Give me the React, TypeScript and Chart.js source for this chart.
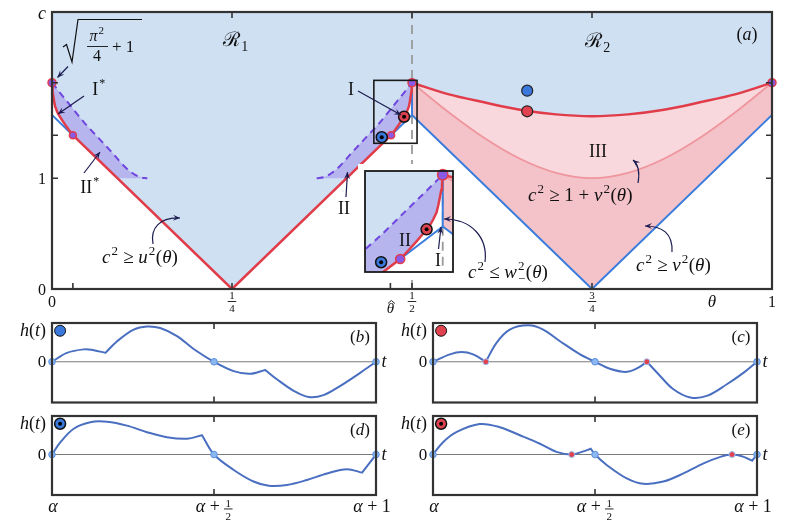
import React, { useEffect, useRef } from "react";
import { Chart, registerables } from "chart.js";

Chart.register(...registerables);

type P = [number, number];

// ================= Panel (a) data =================
const THETA_RANGE = [0, 1];
const C_RANGE = [0, 2.5];
const THETA_TICKS_BOTTOM = [0, 0.029, 0.25, 0.47, 0.5, 0.75, 1];
const THETA_TICKS_TOP = [0.25, 0.5, 0.75];
const C_TICKS_SIDE = [1, 1.388, 1.862];
const C_LABEL_VALUES = [0, 1];
const C_LABELS = ["0", "1"];
const INSET_THETA_RANGE = [0.447, 0.507];
const INSET_C_RANGE = [1.315, 1.883];

const RED_CURVE_L: P[] = [[0, 1.862], [0.0005, 1.808], [0.001, 1.776], [0.0018, 1.741], [0.003, 1.692], [0.0042, 1.651], [0.0065, 1.61], [0.0088, 1.577], [0.013, 1.534], [0.018, 1.486], [0.023, 1.44], [0.029, 1.388]];
const RED_V_VERTEX: P = [0.25, 0];
const RED_CURVE_R: P[] = [[0.471, 1.388], [0.477, 1.44], [0.482, 1.486], [0.487, 1.534], [0.4912, 1.577], [0.4935, 1.61], [0.4958, 1.651], [0.497, 1.692], [0.4982, 1.741], [0.499, 1.776], [0.4995, 1.808], [0.5, 1.862]];
const RED_R2: P[] = [[0.5, 1.862], [0.55, 1.759], [0.6, 1.685], [0.65, 1.618], [0.7, 1.576], [0.75, 1.56], [0.8, 1.576], [0.85, 1.618], [0.9, 1.685], [0.95, 1.759], [1, 1.862]];
const PINK_R2: P[] = [[0.5, 1.862], [0.55, 1.6], [0.6, 1.365], [0.65, 1.175], [0.7, 1.048], [0.75, 1.0], [0.8, 1.048], [0.85, 1.175], [0.9, 1.365], [0.95, 1.6], [1, 1.862]];
const BLUE_R2: P[] = [[0.5, 1.571], [0.75, 0], [1, 1.571]];
const BLUE_EDGE_R: P[] = [[1, 1.571], [1, 1.862]];
const BLUE_L1: P[] = [[0, 1.862], [0, 1.571], [0.029, 1.388]];
const BLUE_L2: P[] = [[0.471, 1.388], [0.5, 1.571], [0.5, 1.862]];
const DASH_L: P[] = [[0, 1.862], [0.01, 1.78], [0.025, 1.66], [0.045, 1.5], [0.065, 1.36], [0.085, 1.22], [0.1, 1.11], [0.112, 1.045], [0.122, 1.01], [0.1324, 1.0]];
const DASH_R: P[] = [[0.3676, 1.0], [0.378, 1.01], [0.388, 1.045], [0.4, 1.11], [0.415, 1.22], [0.435, 1.36], [0.455, 1.5], [0.475, 1.66], [0.49, 1.78], [0.5, 1.862]];
const II_FLOOR_L: P[] = [[0.0908, 1.0], [0.1324, 1.0]];
const II_FLOOR_R: P[] = [[0.3676, 1.0], [0.4092, 1.0]];
const HALF_LINE: P[] = [[0.5, 0], [0.5, 2.5]];
const TRIPLE_POINTS: P[] = [[0, 1.862], [0.5, 1.862], [1, 1.862]];
const JOIN_POINTS: P[] = [[0.029, 1.388], [0.471, 1.388]];
const BLUE_DOT: P[] = [[0.66, 1.79]];
const RED_DOT: P[] = [[0.66, 1.604]];
const BLUE_BULL: P[] = [[0.458, 1.37]];
const RED_BULL: P[] = [[0.489, 1.555]];

// ================= Panels (b)-(e) data =================
const T_RANGE = [0, 1];
const H_RANGE = [-1.05, 1];
const PANEL_TICKS = [0.5];
const ZERO_LINE: P[] = [[0, 0], [1, 0]];
const ZERO_DOTS: P[] = [[0, 0], [0.5, 0], [1, 0]];
const MARKER_POS: P[] = [[0.025, 0.8]];
const CURVE_B: P[] = [[0, 0], [0.046, 0.23], [0.098, 0.32], [0.129, 0.3], [0.165, 0.23], [0.165, 0.23], [0.201, 0.53], [0.252, 0.83], [0.293, 0.91], [0.334, 0.87], [0.386, 0.66], [0.437, 0.33], [0.5, 0], [0.561, -0.24], [0.612, -0.31], [0.658, -0.21], [0.658, -0.21], [0.694, -0.45], [0.746, -0.75], [0.792, -0.91], [0.838, -0.86], [0.89, -0.62], [0.952, -0.28], [1, 0]];
const CURVE_C: P[] = [[0, 0], [0.052, 0.19], [0.088, 0.25], [0.124, 0.19], [0.163, 0], [0.163, 0], [0.196, 0.49], [0.237, 0.83], [0.294, 0.94], [0.34, 0.83], [0.392, 0.53], [0.454, 0.19], [0.5, 0], [0.546, -0.18], [0.598, -0.26], [0.634, -0.15], [0.66, 0], [0.66, 0], [0.696, -0.32], [0.742, -0.71], [0.794, -0.92], [0.845, -0.88], [0.907, -0.58], [0.959, -0.28], [1, 0]];
const CURVE_D: P[] = [[0, 0], [0.026, 0.32], [0.067, 0.67], [0.118, 0.84], [0.17, 0.85], [0.231, 0.75], [0.293, 0.58], [0.355, 0.45], [0.417, 0.41], [0.463, 0.5], [0.463, 0.5], [0.5, 0], [0.561, -0.4], [0.622, -0.7], [0.669, -0.81], [0.725, -0.79], [0.787, -0.66], [0.849, -0.49], [0.91, -0.38], [0.957, -0.47], [0.957, -0.47], [1, 0]];
const CURVE_E: P[] = [[0, 0], [0.031, 0.32], [0.072, 0.58], [0.144, 0.79], [0.206, 0.71], [0.268, 0.5], [0.33, 0.28], [0.381, 0.07], [0.428, 0], [0.459, 0.07], [0.487, 0.15], [0.487, 0.15], [0.5, 0], [0.536, -0.27], [0.598, -0.62], [0.649, -0.76], [0.711, -0.7], [0.773, -0.49], [0.835, -0.23], [0.887, -0.06], [0.923, 0], [0.959, -0.06], [0.985, -0.16], [0.985, -0.16], [1, 0]];
const RED_DOTS_C: P[] = [[0.163, 0], [0.66, 0]];
const RED_DOTS_E: P[] = [[0.428, 0], [0.923, 0]];

// ================= styling =================
const SERIF = "'Liberation Serif', 'DejaVu Serif', 'Times New Roman', serif";
const INK = "#111";
const FRAME = "#333";
const ARROW = "#1c1c50";
const LIGHT_BLUE = "#cfe0f3";
const PINK_LIGHT = "#f8d8dc";
const PINK_DARK = "#f4c3c9";
const PURPLE_FILL = "#b6b5ee";
const PURPLE = "#7046de";
const RED = "#e03c4a";
const PINK_LINE = "#ef959e";
const BLUE = "#3a7ddd";
const PANEL_BLUE = "#4a6fc0";

const pts = (a: P[]) => a.map(([x, y]) => ({ x, y }));

type Seg = { t: string; it?: boolean; sup?: string; sub?: string };

function drawMath(ctx: CanvasRenderingContext2D, segs: Seg[], x: number, y: number, size: number, align: "left" | "center" | "right" = "left") {
  const small = Math.round(size * 0.68);
  const font = (it: boolean, s: number) => `${it ? "italic " : ""}${s}px ${SERIF}`;
  let total = 0;
  const widths = segs.map((s) => {
    ctx.font = font(!!s.it, size);
    const w = ctx.measureText(s.t).width;
    let extra = 0;
    if (s.sup || s.sub) {
      ctx.font = font(false, small);
      const ws = s.sup ? ctx.measureText(s.sup).width : 0;
      const wb = s.sub ? ctx.measureText(s.sub).width : 0;
      extra = Math.max(ws, wb) + 1.5;
    }
    total += w + extra;
    return [w, extra];
  });
  let cx = align === "center" ? x - total / 2 : align === "right" ? x - total : x;
  ctx.textAlign = "left";
  ctx.textBaseline = "alphabetic";
  segs.forEach((s, i) => {
    ctx.font = font(!!s.it, size);
    ctx.fillText(s.t, cx, y);
    cx += widths[i][0];
    if (s.sup || s.sub) {
      ctx.font = font(false, small);
      if (s.sup) ctx.fillText(s.sup, cx + 1, y - size * 0.42);
      if (s.sub) ctx.fillText(s.sub, cx + 1, y + size * 0.25);
      cx += widths[i][1];
    }
  });
}

function head(ctx: CanvasRenderingContext2D, x: number, y: number, ang: number, L = 7, W = 3) {
  const c = Math.cos(ang), s = Math.sin(ang);
  ctx.beginPath();
  ctx.moveTo(x, y);
  ctx.lineTo(x - L * c + W * s, y - L * s - W * c);
  ctx.lineTo(x - L * 0.6 * c, y - L * 0.6 * s);
  ctx.lineTo(x - L * c - W * s, y - L * s + W * c);
  ctx.closePath();
  ctx.fill();
}

function straightArrow(ctx: CanvasRenderingContext2D, x1: number, y1: number, x2: number, y2: number) {
  ctx.beginPath();
  ctx.moveTo(x1, y1);
  ctx.lineTo(x2, y2);
  ctx.stroke();
  head(ctx, x2, y2, Math.atan2(y2 - y1, x2 - x1));
}

function curveArrow(ctx: CanvasRenderingContext2D, p: number[]) {
  const [x0, y0, c1x, c1y, c2x, c2y, x3, y3] = p;
  ctx.beginPath();
  ctx.moveTo(x0, y0);
  ctx.bezierCurveTo(c1x, c1y, c2x, c2y, x3, y3);
  ctx.stroke();
  head(ctx, x3, y3, Math.atan2(y3 - c2y, x3 - c2x));
}

function fracText(ctx: CanvasRenderingContext2D, num: string, den: string, cx: number, numBase: number, barY: number, denBase: number, size: number) {
  ctx.font = `${size}px ${SERIF}`;
  ctx.textAlign = "center";
  ctx.textBaseline = "alphabetic";
  ctx.fillText(num, cx, numBase);
  ctx.fillText(den, cx, denBase);
  const w = ctx.measureText("0").width + 3;
  ctx.fillRect(cx - w / 2, barY, w, 0.9);
}

// ---------- dataset builders ----------
function area(data: P[], fill: any, color: string, order: number, mono = false) {
  return {
    data: pts(data), fill, backgroundColor: color, borderColor: "rgba(0,0,0,0)", borderWidth: 0,
    pointRadius: 0, order, tension: 0, cubicInterpolationMode: mono ? "monotone" : "default",
  };
}
function line(data: P[], color: string, width: number, order: number, extra: any = {}) {
  return {
    data: pts(data), borderColor: color, borderWidth: width, backgroundColor: color, fill: false,
    pointRadius: 0, order, tension: 0, ...extra,
  };
}
function dots(data: P[], r: number, bg: string, border: string, bw: number, order: number) {
  return {
    data: pts(data), showLine: false, pointRadius: r, pointBackgroundColor: bg, pointBorderColor: border,
    pointBorderWidth: bw, order, clip: false, fill: false, borderColor: border, backgroundColor: bg,
  };
}

function mainDatasets(k = 1) {
  const RED_R1 = [...RED_CURVE_L, RED_V_VERTEX, ...RED_CURVE_R];
  const LOW_L = [...RED_CURVE_L, ...II_FLOOR_L];
  const LOW_R = [...II_FLOOR_R, ...RED_CURVE_R];
  return [
    area(RED_R1, "end", LIGHT_BLUE, 100), // 0
    area(RED_R2, "end", LIGHT_BLUE, 99, true), // 1
    area(PINK_R2, 1, PINK_LIGHT, 98, true), // 2
    area(BLUE_R2, 2, PINK_DARK, 97), // 3
    area(LOW_L, false, "rgba(0,0,0,0)", 96), // 4
    area(DASH_L, 4, PURPLE_FILL, 95, true), // 5
    area(LOW_R, false, "rgba(0,0,0,0)", 94), // 6
    area(DASH_R, 6, PURPLE_FILL, 93, true), // 7
    line(HALF_LINE, "#9a9a9a", 1.8, 90, { borderDash: [9, 6] }),
    line(PINK_R2, PINK_LINE, 1.7, 60, { cubicInterpolationMode: "monotone" }),
    line(BLUE_R2, BLUE, 2, 55),
    line(BLUE_EDGE_R, BLUE, 2, 55),
    line(BLUE_L1, BLUE, 2, 55),
    line(BLUE_L2, BLUE, 2, 55),
    line(RED_R1, RED, 2.5, 50),
    line(RED_R2, RED, 2.5, 50, { cubicInterpolationMode: "monotone" }),
    line(DASH_L, PURPLE, 2, 45, { cubicInterpolationMode: "monotone", borderDash: [7, 5] }),
    line(DASH_R, PURPLE, 2, 45, { cubicInterpolationMode: "monotone", borderDash: [7, 5] }),
    dots(TRIPLE_POINTS, 4 * k, "#8a5ae6", RED, 1.5, 10),
    dots(JOIN_POINTS, 3.5 * k, "#8a5ae6", RED, 1.5, 10),
    dots(BLUE_DOT, 5.5, "#3a78dc", "#222", 1.2, 9),
    dots(RED_DOT, 5.5, "#e0434f", "#222", 1.2, 9),
    dots(BLUE_BULL, 5.5, "#3a78dc", "#111", 1.5, 8),
    dots(RED_BULL, 5.5, "#e0434f", "#111", 1.5, 8),
    dots([...BLUE_BULL, ...RED_BULL], 2, "#000", "#000", 0, 7),
  ];
}

function baseOptions(xr: number[], yr: number[], pad: any) {
  return {
    responsive: false,
    animation: false,
    events: [],
    layout: { padding: pad },
    scales: {
      x: { type: "linear", min: xr[0], max: xr[1], display: false },
      y: { type: "linear", min: yr[0], max: yr[1], display: false },
    },
    plugins: { legend: { display: false }, tooltip: { enabled: false } },
  };
}

const W_ARROW = [485, 262, 488, 238, 472, 219, 444, 219];

const mainDeco = {
  id: "mainDeco",
  afterDraw(chart: any) {
    const { ctx, chartArea: a } = chart;
    const xs = chart.scales.x, ys = chart.scales.y;
    ctx.save();
    // zoom box
    const zx0 = xs.getPixelForValue(INSET_THETA_RANGE[0]);
    const zx1 = xs.getPixelForValue(INSET_THETA_RANGE[1]);
    const zy0 = ys.getPixelForValue(INSET_C_RANGE[1]);
    const zy1 = ys.getPixelForValue(INSET_C_RANGE[0]);
    ctx.strokeStyle = "#1a1a1a";
    ctx.lineWidth = 1.6;
    ctx.strokeRect(zx0, zy0, zx1 - zx0, zy1 - zy0);
    // frame
    ctx.strokeStyle = FRAME;
    ctx.lineWidth = 2.2;
    ctx.strokeRect(a.left, a.top, a.right - a.left, a.bottom - a.top);
    ctx.lineWidth = 1.6;
    ctx.beginPath();
    for (const t of THETA_TICKS_BOTTOM) {
      const px = xs.getPixelForValue(t);
      ctx.moveTo(px, a.bottom);
      ctx.lineTo(px, a.bottom - 6);
    }
    for (const t of THETA_TICKS_TOP) {
      const px = xs.getPixelForValue(t);
      ctx.moveTo(px, a.top);
      ctx.lineTo(px, a.top + 6);
    }
    for (const c of C_TICKS_SIDE) {
      const py = ys.getPixelForValue(c);
      ctx.moveTo(a.left, py);
      ctx.lineTo(a.left + 6, py);
      ctx.moveTo(a.right, py);
      ctx.lineTo(a.right - 6, py);
    }
    ctx.stroke();

    ctx.fillStyle = INK;
    // y labels
    C_LABEL_VALUES.forEach((v, i) => {
      drawMath(ctx, [{ t: C_LABELS[i] }], a.left - 10, ys.getPixelForValue(v) + 5.5, 16, "center");
    });
    drawMath(ctx, [{ t: "c", it: true }], a.left - 10, a.top + 7, 18, "center");
    // x labels
    const xp = (t: number) => xs.getPixelForValue(t);
    drawMath(ctx, [{ t: "0" }], xp(0), 307, 16, "center");
    drawMath(ctx, [{ t: "1" }], xp(1), 307, 16, "center");
    fracText(ctx, "1", "4", xp(0.25), 299, 301, 312, 11);
    fracText(ctx, "1", "2", xp(0.5), 299, 301, 312, 11);
    fracText(ctx, "3", "4", xp(0.75), 299, 301, 312, 11);
    drawMath(ctx, [{ t: "θ", it: true }], xp(0.47), 313, 15, "center");
    ctx.strokeStyle = INK;
    ctx.lineWidth = 0.9;
    ctx.beginPath();
    const hx = xp(0.47) + 1;
    ctx.moveTo(hx - 3.5, 303.5);
    ctx.lineTo(hx, 300.5);
    ctx.lineTo(hx + 3.5, 303.5);
    ctx.stroke();
    drawMath(ctx, [{ t: "θ", it: true }], 712, 307, 17, "center");

    // region names
    drawMath(ctx, [{ t: "ℛ", sub: "1" }], 236, 46, 20, "center");
    drawMath(ctx, [{ t: "ℛ", sub: "2" }], 598, 47, 20, "center");
    drawMath(ctx, [{ t: "(" }, { t: "a", it: true }, { t: ")" }], 747, 40, 18, "center");

    // sqrt(pi^2/4 + 1)
    ctx.strokeStyle = INK;
    ctx.lineWidth = 1.2;
    ctx.beginPath();
    ctx.moveTo(63, 47);
    ctx.lineTo(66.5, 44.5);
    ctx.lineTo(72, 62);
    ctx.lineTo(78, 19.5);
    ctx.lineTo(142, 19.5);
    ctx.stroke();
    drawMath(ctx, [{ t: "π", it: true, sup: "2" }], 97, 41, 16, "center");
    ctx.fillRect(87, 46, 21, 0.9);
    drawMath(ctx, [{ t: "4" }], 97, 61, 16, "center");
    drawMath(ctx, [{ t: "+ 1" }], 112, 52, 17, "left");

    // roman numerals
    drawMath(ctx, [{ t: "I", sup: "*" }], 99, 95, 18, "center");
    drawMath(ctx, [{ t: "II", sup: "*" }], 90, 193, 18, "center");
    drawMath(ctx, [{ t: "I" }], 351, 95, 18, "center");
    drawMath(ctx, [{ t: "II" }], 344, 214, 18, "center");
    drawMath(ctx, [{ t: "III" }], 598, 157, 18, "center");

    // inequalities
    drawMath(ctx, [{ t: "c", it: true, sup: "2" }, { t: " ≥ " }, { t: "u", it: true, sup: "2" }, { t: "(" }, { t: "θ", it: true }, { t: ")" }], 102, 263, 19, "left");
    drawMath(ctx, [{ t: "c", it: true, sup: "2" }, { t: " ≥ 1 + " }, { t: "v", it: true, sup: "2" }, { t: "(" }, { t: "θ", it: true }, { t: ")" }], 528, 201, 19, "left");
    drawMath(ctx, [{ t: "c", it: true, sup: "2" }, { t: " ≥ " }, { t: "v", it: true, sup: "2" }, { t: "(" }, { t: "θ", it: true }, { t: ")" }], 636, 271, 19, "left");
    drawMath(ctx, [{ t: "c", it: true, sup: "2" }, { t: " ≤ " }, { t: "w", it: true, sup: "2", sub: "−" }, { t: "(" }, { t: "θ", it: true }, { t: ")" }], 468, 278, 19, "left");

    // arrows
    ctx.strokeStyle = ARROW;
    ctx.fillStyle = ARROW;
    ctx.lineWidth = 1.2;
    straightArrow(ctx, 68, 66.5, 57.5, 77.5);
    straightArrow(ctx, 84, 96, 58, 114);
    straightArrow(ctx, 84, 173, 100, 152);
    straightArrow(ctx, 358, 91, 401, 115);
    straightArrow(ctx, 346, 197, 347.5, 172);
    curveArrow(ctx, [153, 244, 150, 228, 160, 217, 180, 218]);
    curveArrow(ctx, [638, 183, 640, 172, 639, 165, 633, 160]);
    curveArrow(ctx, [672, 252, 673, 233, 662, 226, 645, 226]);
    curveArrow(ctx, W_ARROW);
    ctx.restore();
  },
};

const INSET_LEFT = 358;
const INSET_TOP = 164;

const insetDeco = {
  id: "insetDeco",
  beforeDraw(chart: any) {
    const { ctx } = chart;
    ctx.save();
    ctx.fillStyle = "#fff";
    ctx.fillRect(0, 0, chart.width, chart.height);
    ctx.restore();
  },
  afterDraw(chart: any) {
    const { ctx, chartArea: a } = chart;
    ctx.save();
    ctx.strokeStyle = "#1a1a1a";
    ctx.lineWidth = 1.8;
    ctx.strokeRect(a.left, a.top, a.right - a.left, a.bottom - a.top);
    ctx.translate(-INSET_LEFT, -INSET_TOP);
    ctx.fillStyle = INK;
    drawMath(ctx, [{ t: "II" }], 405, 246, 18, "center");
    drawMath(ctx, [{ t: "I" }], 438, 266, 18, "center");
    ctx.strokeStyle = ARROW;
    ctx.fillStyle = ARROW;
    ctx.lineWidth = 1.2;
    straightArrow(ctx, 438.5, 249, 441, 227);
    curveArrow(ctx, W_ARROW);
    ctx.restore();
  },
};

function panelDeco(name: string, alpha: boolean) {
  return {
    id: "panelDeco",
    afterDraw(chart: any) {
      const { ctx, chartArea: a } = chart;
      const xs = chart.scales.x, ys = chart.scales.y;
      ctx.save();
      ctx.strokeStyle = FRAME;
      ctx.lineWidth = 2.2;
      ctx.strokeRect(a.left, a.top, a.right - a.left, a.bottom - a.top);
      ctx.lineWidth = 1.6;
      ctx.beginPath();
      for (const t of PANEL_TICKS) {
        const px = xs.getPixelForValue(t);
        ctx.moveTo(px, a.top);
        ctx.lineTo(px, a.top + 6);
        ctx.moveTo(px, a.bottom);
        ctx.lineTo(px, a.bottom - 6);
      }
      ctx.stroke();
      ctx.fillStyle = INK;
      const y0 = ys.getPixelForValue(0);
      drawMath(ctx, [{ t: "h", it: true }, { t: "(" }, { t: "t", it: true }, { t: ")" }], a.left - 19, a.top + 13, 18, "center");
      drawMath(ctx, [{ t: "0" }], a.left - 10, y0 + 5.5, 17, "center");
      drawMath(ctx, [{ t: "t", it: true }], a.right + 8, y0 + 5.5, 18, "center");
      drawMath(ctx, [{ t: "(" }, { t: name, it: true }, { t: ")" }], a.right - 16, a.top + 19, 17, "center");
      if (alpha) {
        const by = a.bottom + 17;
        drawMath(ctx, [{ t: "α", it: true }], xs.getPixelForValue(0) + 1, by, 18, "center");
        const cx = xs.getPixelForValue(0.5);
        ctx.font = `italic 18px ${SERIF}`;
        const wa = ctx.measureText("α").width;
        ctx.font = `18px ${SERIF}`;
        const wp = ctx.measureText(" + ").width;
        const wf = 8;
        const sx = cx - (wa + wp + wf) / 2;
        drawMath(ctx, [{ t: "α", it: true }, { t: " + " }], sx, by, 18, "left");
        fracText(ctx, "1", "2", sx + wa + wp + wf / 2, by - 5, by - 3.5, by + 8, 11);
        drawMath(ctx, [{ t: "α", it: true }, { t: " + 1" }], xs.getPixelForValue(1) - 4, by, 18, "center");
      }
      ctx.restore();
    },
  };
}

function panelConfig(curve: P[], redDots: P[], markColor: string, bull: boolean, name: string, alpha: boolean, pad: any) {
  const ds: any[] = [
    line(ZERO_LINE, "#7a7a7a", 1.1, 20),
    line(curve, PANEL_BLUE, 2, 10, { tension: 0.35 }),
    dots(ZERO_DOTS, 3.3, "#8cb8f2", "#5b8fe0", 1, 5),
    dots(redDots, 3, "#e0434f", "#9cc0f4", 1, 4),
    dots(MARKER_POS, 5.5, markColor, "#111", bull ? 1.5 : 1, 3),
  ];
  if (bull) ds.push(dots(MARKER_POS, 2, "#000", "#000", 0, 2));
  return {
    type: "line",
    data: { datasets: ds },
    options: baseOptions(T_RANGE, H_RANGE, pad),
    plugins: [panelDeco(name, alpha)],
  };
}

export default function App() {
  const mainRef = useRef<HTMLCanvasElement>(null);
  const insetRef = useRef<HTMLCanvasElement>(null);
  const bRef = useRef<HTMLCanvasElement>(null);
  const cRef = useRef<HTMLCanvasElement>(null);
  const dRef = useRef<HTMLCanvasElement>(null);
  const eRef = useRef<HTMLCanvasElement>(null);

  useEffect(() => {
    const charts: Chart[] = [];
    charts.push(
      new Chart(mainRef.current!, {
        type: "line",
        data: { datasets: mainDatasets(1) as any },
        options: baseOptions(THETA_RANGE, C_RANGE, { left: 52, top: 12, right: 22, bottom: 31 }) as any,
        plugins: [mainDeco],
      } as any)
    );
    charts.push(
      new Chart(insetRef.current!, {
        type: "line",
        data: { datasets: mainDatasets(1.3) as any },
        options: baseOptions(INSET_THETA_RANGE, INSET_C_RANGE, { left: 2, top: 2, right: 2, bottom: 2 }) as any,
        plugins: [insetDeco],
      } as any)
    );
    const padTopL = { left: 52, top: 7, right: 21, bottom: 6 };
    const padTopR = { left: 36, top: 7, right: 37, bottom: 6 };
    const padBotL = { left: 52, top: 5, right: 21, bottom: 29 };
    const padBotR = { left: 36, top: 5, right: 37, bottom: 29 };
    charts.push(new Chart(bRef.current!, panelConfig(CURVE_B, [], "#3a78dc", false, "b", false, padTopL) as any));
    charts.push(new Chart(cRef.current!, panelConfig(CURVE_C, RED_DOTS_C, "#e0434f", false, "c", false, padTopR) as any));
    charts.push(new Chart(dRef.current!, panelConfig(CURVE_D, [], "#3a78dc", true, "d", true, padBotL) as any));
    charts.push(new Chart(eRef.current!, panelConfig(CURVE_E, RED_DOTS_E, "#e0434f", true, "e", true, padBotR) as any));
    return () => charts.forEach((c) => c.destroy());
  }, []);

  const abs = (l: number, t: number, w: number, h: number): React.CSSProperties => ({
    position: "absolute", left: l, top: t, width: w, height: h,
  });

  return (
    <div style={{ position: "absolute", left: 0, top: 0, width: 794, height: 524, background: "#fff", overflow: "hidden" }}>
      <canvas ref={mainRef} width={794} height={320} style={abs(0, 0, 794, 320)} />
      <canvas ref={insetRef} width={102} height={115} style={abs(INSET_LEFT, INSET_TOP, 102, 115)} />
      <canvas ref={bRef} width={397} height={93} style={abs(0, 316, 397, 93)} />
      <canvas ref={cRef} width={397} height={93} style={abs(397, 316, 397, 93)} />
      <canvas ref={dRef} width={397} height={115} style={abs(0, 409, 397, 115)} />
      <canvas ref={eRef} width={397} height={115} style={abs(397, 409, 397, 115)} />
    </div>
  );
}
